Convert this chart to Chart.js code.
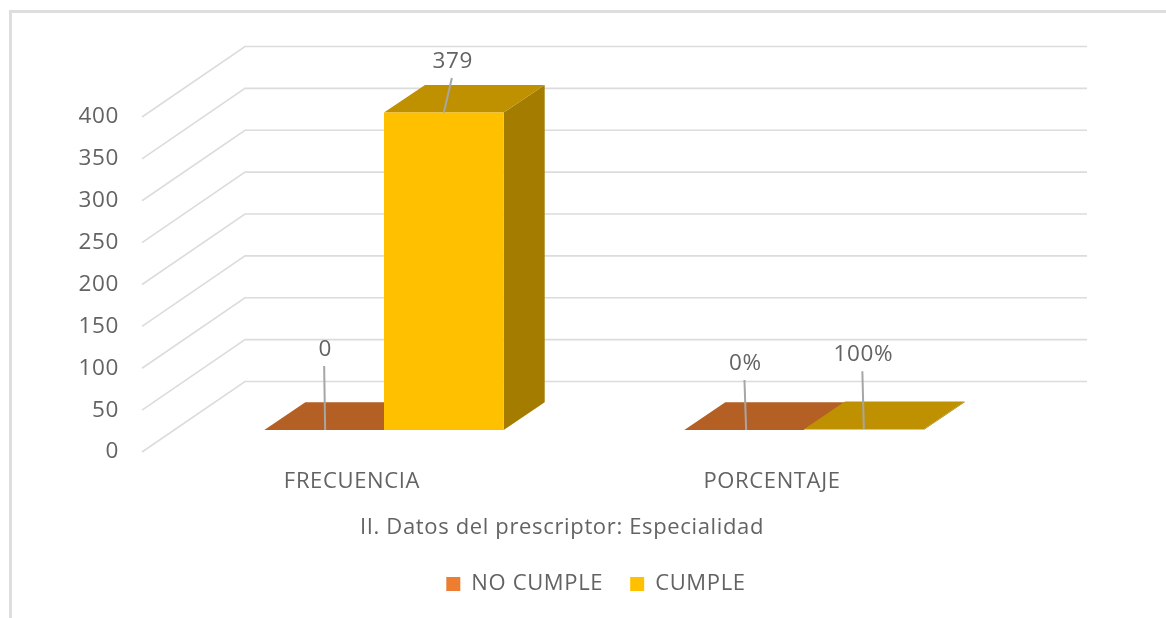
<!DOCTYPE html>
<html>
<head>
<meta charset="utf-8">
<title>Datos del prescriptor</title>
<script src="https://cdn.jsdelivr.net/npm/chart.js@4"></script>
<style>
  html, body { margin: 0; padding: 0; background: #fff; overflow: hidden; }
  #frame {
    position: absolute; left: 9px; top: 10px; right: 0; bottom: 0;
    border-left: 3px solid #dedede; border-top: 3px solid #dedede;
  }
  #grafica { position: absolute; left: 0; top: 0; }
</style>
</head>
<body>
<div id="frame"></div>
<canvas id="grafica" width="1166" height="618"></canvas>
<script>
const categorias = ['FRECUENCIA', 'PORCENTAJE'];
const noCumple = [0, 0];
// porcentaje stored as a fraction, 1 = 100%
const cumple = [379, 1];
const yTicks = [0, 50, 100, 150, 200, 250, 300, 350, 400];

const TEXTO = '#636363';
const FUENTE = '"Open Sans", sans-serif';

// front plane -> back wall, and front plane -> front of the bars
const FONDO = { x: 103, y: -70.5 };
const BARRA = { x: 32, y: -22 };
const PROF = { x: 41, y: -27.7 };

const caras = [
  { top: '#b45f24', side: '#8a4a1c' },
  { top: '#bf9000', side: '#a37c00' }
];

// leader line of each label: from bar centre + sx, up to tx / ty away from bar top
const guias = [
  [{ sx: 1, tx: 0, ty: -64 }, { sx: 2, tx: 0.3, ty: -50 }],
  [{ sx: 0, tx: 8, ty: -34.5 }, { sx: 0, tx: -1.5, ty: -58 }]
];

function etiqueta(valor, i) {
  return i === 1 ? Math.round(valor * 100) + '%' : String(valor);
}

const efecto3d = {
  id: 'efecto3d',
  beforeUpdate(chart) {
    // the text runs a little wide
    chart.ctx.letterSpacing = '0.65px';
  },
  afterLayout(chart) {
    // legend sits right of the axis title and higher than its box
    chart.legend.left += 34;
    chart.legend.right += 34;
    chart.legend.top -= 13;
    chart.legend.bottom -= 13;
  },
  beforeDatasetsDraw(chart) {
    const { ctx, chartArea } = chart;
    const y = chart.scales.y;
    ctx.save();

    // back wall and side wall lines
    ctx.strokeStyle = '#dcdcdc';
    ctx.lineWidth = 1.6;
    yTicks.forEach(t => {
      const py = y.getPixelForValue(t);
      ctx.beginPath();
      ctx.moveTo(chartArea.left, py);
      ctx.lineTo(chartArea.left + FONDO.x, py + FONDO.y);
      ctx.lineTo(chartArea.right + FONDO.x + 2, py + FONDO.y);
      ctx.stroke();
    });

    ctx.translate(BARRA.x, BARRA.y);
    chart.data.datasets.forEach((ds, d) => {
      chart.getDatasetMeta(d).data.forEach(bar => {
        const izq = bar.x - bar.width / 2;
        const der = bar.x + bar.width / 2;
        // right side
        ctx.fillStyle = caras[d].side;
        ctx.beginPath();
        ctx.moveTo(der, bar.y);
        ctx.lineTo(der + PROF.x, bar.y + PROF.y);
        ctx.lineTo(der + PROF.x, bar.base + PROF.y);
        ctx.lineTo(der, bar.base);
        ctx.closePath();
        ctx.fill();
        // top
        ctx.fillStyle = caras[d].top;
        ctx.beginPath();
        ctx.moveTo(izq, bar.y);
        ctx.lineTo(izq + PROF.x, bar.y + PROF.y);
        ctx.lineTo(der + PROF.x, bar.y + PROF.y);
        ctx.lineTo(der, bar.y);
        ctx.closePath();
        ctx.fill();
      });
    });
    // front faces are drawn by the chart itself inside this translation
  },
  afterDatasetsDraw(chart) {
    const { ctx } = chart;
    ctx.font = '22.5px ' + FUENTE;
    ctx.textAlign = 'center';
    ctx.textBaseline = 'middle';
    chart.data.datasets.forEach((ds, d) => {
      chart.getDatasetMeta(d).data.forEach((bar, i) => {
        const g = guias[d][i];
        const tipX = bar.x + g.tx;
        const tipY = bar.y + g.ty;
        ctx.strokeStyle = '#a6a6a6';
        ctx.lineWidth = 2;
        ctx.beginPath();
        ctx.moveTo(bar.x + g.sx, bar.y);
        ctx.lineTo(tipX, tipY);
        ctx.stroke();
        ctx.fillStyle = TEXTO;
        ctx.fillText(etiqueta(ds.data[i], i), tipX + 1, tipY - 16.5);
      });
    });
    ctx.restore();
  }
};

new Chart(document.getElementById('grafica'), {
  type: 'bar',
  data: {
    labels: categorias,
    datasets: [
      { label: 'NO CUMPLE', data: noCumple, backgroundColor: '#ed7d31', borderWidth: 0 },
      { label: 'CUMPLE', data: cumple, backgroundColor: '#ffc000', borderWidth: 0 }
    ]
  },
  plugins: [efecto3d],
  options: {
    responsive: false,
    animation: false,
    layout: { padding: { left: 0, right: 184, top: 117, bottom: 0 } },
    datasets: { bar: { categoryPercentage: 0.57, barPercentage: 1, clip: false } },
    plugins: {
      tooltip: { enabled: false },
      legend: {
        position: 'bottom',
        fullSize: false,
        labels: {
          color: TEXTO,
          font: { family: FUENTE, size: 22 },
          boxWidth: 14,
          boxHeight: 14,
          padding: 27
        }
      }
    },
    scales: {
      x: {
        grid: { display: false, drawTicks: false },
        border: { display: false },
        afterFit(scale) { scale.height = 107; },
        ticks: { color: TEXTO, font: { family: FUENTE, size: 22 }, padding: 17, maxRotation: 0 },
        title: {
          display: true,
          text: 'II. Datos del prescriptor: Especialidad',
          color: TEXTO,
          font: { family: FUENTE, size: 22 },
          padding: { top: 20, bottom: 18 }
        }
      },
      y: {
        min: 0,
        max: 400,
        grid: { display: false, drawTicks: false },
        border: { display: false },
        afterBuildTicks(scale) { scale.ticks = yTicks.map(v => ({ value: v })); },
        afterFit(scale) { scale.width = 142; },
        ticks: { color: TEXTO, font: { family: FUENTE, size: 22.5 }, padding: 23 }
      }
    }
  }
});
</script>
</body>
</html>
